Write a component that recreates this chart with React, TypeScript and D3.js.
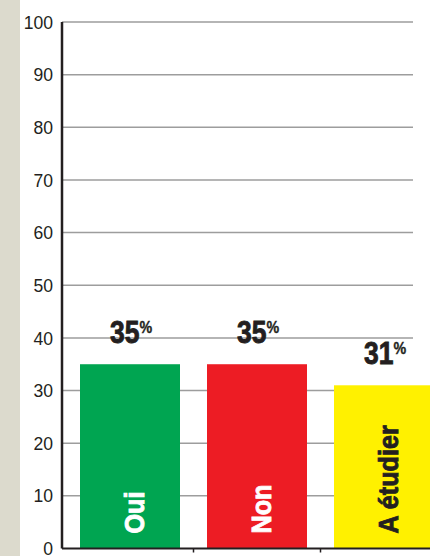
import React from "react";
import * as d3 from "d3";

const categories = ["Oui", "Non", "A étudier"];
const values = [35, 35, 31];
const valueLabels = ["35", "35", "31"];
const colors = ["#00a551", "#ed1c24", "#fff100"];
const labelColors = ["#ffffff", "#ffffff", "#231f20"];
const yTicks = [0, 10, 20, 30, 40, 50, 60, 70, 80, 90, 100];

const W = 430;
const H = 556;
const axisX = 62;
const gridEnd = 413;

export default function App() {
  const y = d3.scaleLinear().domain([0, 100]).range([548.5, 22]);
  const x = d3
    .scaleBand<string>()
    .domain(categories)
    .range([66.5, 447.5])
    .paddingInner(27 / 127)
    .paddingOuter(27 / 254);
  const bw = x.bandwidth();
  const boldFont = "'Liberation Sans', Arial, sans-serif";

  return (
    <svg
      width={W}
      height={H}
      style={{ position: "absolute", left: 0, top: 0, background: "#fff" }}
    >
      <rect x={0} y={0} width={20} height={H} fill="#dcdacd" />
      {yTicks
        .filter((t) => t > 0)
        .map((t) => (
          <line
            key={t}
            x1={axisX}
            x2={gridEnd}
            y1={y(t)}
            y2={y(t)}
            stroke="#9d9d9d"
            strokeWidth={1.5}
          />
        ))}
      {yTicks.map((t) => (
        <text
          key={"l" + t}
          x={53}
          y={y(t)}
          dy="0.36em"
          textAnchor="end"
          fontFamily="'Liberation Sans', Arial, sans-serif"
          fontSize={18.5}
          fill="#231f20"
          transform={`translate(53,0) scale(0.95,1) translate(-53,0)`}
        >
          {t}
        </text>
      ))}
      {categories.map((c, i) => {
        const bx = x(c)!;
        const cx = bx + bw / 2;
        return (
          <g key={c}>
            <rect
              x={bx}
              y={y(values[i])}
              width={bw}
              height={y(0) - y(values[i])}
              fill={colors[i]}
            />
            <text
              transform={`translate(${cx + 14},${y(0) - 15}) rotate(-90) scale(0.9,1)`}
              fontFamily={boldFont}
              fontWeight="bold"
              fontSize={28}
              fill={labelColors[i]}
              stroke={labelColors[i]}
              strokeWidth={0.9}
            >
              {c}
            </text>
            <g transform={`translate(${cx - 20},${y(values[i]) - 21}) scale(0.84,1)`}>
              <text
                fontFamily={boldFont}
                fontWeight="bold"
                fill="#231f20"
                stroke="#231f20"
                strokeWidth={0.9}
              >
                <tspan fontSize={31.5}>{valueLabels[i]}</tspan>
                <tspan fontSize={17} dy={-10} strokeWidth={0.4}>
                  %
                </tspan>
              </text>
            </g>
          </g>
        );
      })}
      {categories.slice(1).map((c) => {
        const tx = x(c)! - (x.step() - bw) / 2;
        return (
          <line
            key={"t" + c}
            x1={tx}
            x2={tx}
            y1={y(0)}
            y2={y(0) + 4}
            stroke="#231f20"
            strokeWidth={1.5}
          />
        );
      })}
      <line x1={axisX} x2={W} y1={y(0)} y2={y(0)} stroke="#231f20" strokeWidth={2} />
      <line x1={axisX} x2={axisX} y1={y(100)} y2={y(0)} stroke="#231f20" strokeWidth={2.5} />
    </svg>
  );
}
